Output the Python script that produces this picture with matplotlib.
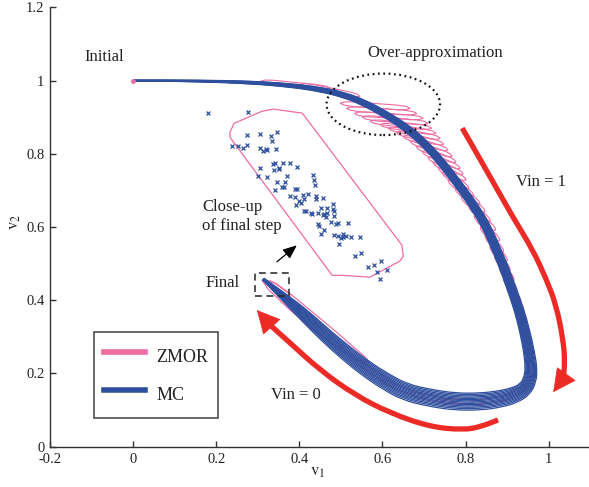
import numpy as np
import matplotlib
matplotlib.use('Agg')
import matplotlib.pyplot as plt
from matplotlib.patches import Ellipse, Rectangle, Polygon, PathPatch
from matplotlib.path import Path
from matplotlib.lines import Line2D

plt.rcParams['font.family'] = ['Liberation Serif', 'DejaVu Serif']
plt.rcParams['mathtext.fontset'] = 'stix'

# ---------------- data ----------------
# Monte-Carlo trajectory band: centre line and spread
mc_center_x = [0.000, 0.161, 0.282, 0.378, 0.450, 0.510, 0.558, 0.599, 0.638, 0.674,
               0.710, 0.744, 0.775, 0.804, 0.830, 0.852, 0.873, 0.893, 0.912, 0.929,
               0.943, 0.953, 0.958, 0.955, 0.943, 0.919, 0.883, 0.835, 0.775, 0.715,
               0.654, 0.606, 0.558, 0.510, 0.462, 0.414, 0.366, 0.313]
mc_center_y = [1.000, 0.999, 0.995, 0.987, 0.976, 0.960, 0.938, 0.913, 0.886, 0.856,
               0.818, 0.774, 0.728, 0.684, 0.640, 0.597, 0.542, 0.488, 0.428, 0.373,
               0.313, 0.258, 0.215, 0.182, 0.157, 0.141, 0.130, 0.123, 0.123, 0.133,
               0.149, 0.179, 0.215, 0.258, 0.305, 0.357, 0.406, 0.458]
mc_spread = [0.0008, 0.0020, 0.0033, 0.0046, 0.0056, 0.0067, 0.0074, 0.0080, 0.0085, 0.0090,
             0.0092, 0.0095, 0.0097, 0.0100, 0.0103, 0.0105, 0.0108, 0.0110, 0.0115, 0.0120,
             0.0128, 0.0136, 0.0149, 0.0167, 0.0185, 0.0200, 0.0210, 0.0218, 0.0218, 0.0218,
             0.0213, 0.0205, 0.0195, 0.0185, 0.0169, 0.0149, 0.0097, 0.0026]
mc_offsets = [-1.0, -0.84, -0.68, -0.53, -0.38, -0.24, -0.1, 0.05, 0.2, 0.35, 0.5, 0.66, 0.82, 1.0]

# ZMOR reachable sets (elongated sets, end points)
zmor_l_x = [0.306, 0.402, 0.498, 0.513, 0.532, 0.551, 0.570, 0.594, 0.614, 0.633, 0.650, 0.667,
            0.681, 0.695, 0.710, 0.722, 0.734, 0.744, 0.758, 0.775, 0.790, 0.808, 0.821, 0.836,
            0.847, 0.859, 0.870, 0.882, 0.892, 0.904, 0.912, 0.920, 0.930, 0.935, 0.942, 0.946,
            0.952, 0.960, 0.948, 0.912, 0.847, 0.775, 0.703, 0.630, 0.325]
zmor_l_y = [0.998, 0.990, 0.938, 0.924, 0.910, 0.900, 0.889, 0.880, 0.870, 0.859, 0.848, 0.834,
            0.820, 0.807, 0.790, 0.777, 0.763, 0.750, 0.728, 0.705, 0.682, 0.657, 0.631, 0.601,
            0.578, 0.549, 0.523, 0.491, 0.462, 0.433, 0.406, 0.377, 0.345, 0.318, 0.289, 0.268,
            0.244, 0.204, 0.166, 0.138, 0.122, 0.119, 0.133, 0.166, 0.452]
zmor_r_x = [0.474, 0.546, 0.667, 0.683, 0.698, 0.710, 0.719, 0.729, 0.739, 0.748, 0.758, 0.768,
            0.777, 0.787, 0.794, 0.801, 0.808, 0.820, 0.835, 0.847, 0.860, 0.872, 0.882, 0.891,
            0.900, 0.907, 0.916, 0.923, 0.932, 0.939, 0.946, 0.952, 0.957, 0.961, 0.964, 0.964,
            0.963, 0.934, 0.883, 0.811, 0.739, 0.667, 0.594, 0.534, 0.378]
zmor_r_y = [0.979, 0.957, 0.924, 0.910, 0.897, 0.883, 0.870, 0.856, 0.842, 0.826, 0.810, 0.793,
            0.777, 0.760, 0.744, 0.728, 0.705, 0.684, 0.662, 0.641, 0.615, 0.591, 0.562, 0.532,
            0.507, 0.480, 0.453, 0.424, 0.393, 0.368, 0.340, 0.309, 0.281, 0.253, 0.228, 0.205,
            0.185, 0.149, 0.125, 0.117, 0.125, 0.147, 0.182, 0.237, 0.408]

# ZMOR outline along the last leg
zmor_final_x = [0.310, 0.342, 0.373, 0.409, 0.481, 0.556, 0.568, 0.534, 0.450, 0.378, 0.325]
zmor_final_y = [0.455, 0.447, 0.422, 0.389, 0.321, 0.247, 0.231, 0.239, 0.305, 0.373, 0.430]

# Close-up of final step: enclosing ZMOR set and MC samples
closeup_x = [0.233, 0.233, 0.243, 0.310, 0.337, 0.407, 0.647, 0.650, 0.642, 0.570, 0.503, 0.479]
closeup_y = [0.845, 0.859, 0.883, 0.916, 0.922, 0.911, 0.550, 0.520, 0.507, 0.463, 0.468, 0.468]
sample_x = [0.180, 0.277, 0.275, 0.306, 0.332, 0.346, 0.333, 0.237, 0.253, 0.265,
            0.275, 0.306, 0.312, 0.320, 0.323, 0.345, 0.336, 0.342, 0.360, 0.378,
            0.340, 0.350, 0.351, 0.306, 0.395, 0.301, 0.322, 0.371, 0.346, 0.366,
            0.359, 0.363, 0.342, 0.432, 0.436, 0.438, 0.390, 0.394, 0.378, 0.390,
            0.408, 0.422, 0.440, 0.458, 0.399, 0.411, 0.440, 0.405, 0.391, 0.411,
            0.416, 0.428, 0.430, 0.444, 0.452, 0.466, 0.481, 0.481, 0.484, 0.457,
            0.460, 0.464, 0.467, 0.483, 0.476, 0.493, 0.488, 0.517, 0.446, 0.447,
            0.460, 0.452, 0.484, 0.493, 0.504, 0.500, 0.506, 0.513, 0.525, 0.545,
            0.496, 0.535, 0.549, 0.566, 0.579, 0.597, 0.586, 0.610, 0.593]
sample_y = [0.910, 0.915, 0.852, 0.854, 0.849, 0.859, 0.834, 0.822, 0.822, 0.817,
            0.825, 0.817, 0.808, 0.814, 0.810, 0.812, 0.771, 0.776, 0.776, 0.776,
            0.757, 0.759, 0.762, 0.762, 0.764, 0.739, 0.736, 0.739, 0.722, 0.722,
            0.709, 0.709, 0.702, 0.741, 0.727, 0.716, 0.703, 0.703, 0.684, 0.682,
            0.687, 0.689, 0.684, 0.680, 0.672, 0.677, 0.676, 0.666, 0.659, 0.645,
            0.643, 0.638, 0.635, 0.637, 0.651, 0.653, 0.664, 0.650, 0.643, 0.632,
            0.635, 0.628, 0.637, 0.629, 0.614, 0.611, 0.608, 0.610, 0.607, 0.604,
            0.591, 0.580, 0.578, 0.576, 0.582, 0.571, 0.572, 0.575, 0.573, 0.573,
            0.553, 0.522, 0.529, 0.490, 0.496, 0.506, 0.476, 0.482, 0.457]

# Input direction arrows (last point = arrow tip)
vin1_x = [0.792, 0.835, 0.876, 0.917, 0.962, 0.994, 1.018, 1.035, 1.039, 1.035, 1.011]
vin1_y = [0.870, 0.785, 0.703, 0.621, 0.537, 0.458, 0.387, 0.291, 0.231, 0.187, 0.149]
vin0_x = [0.878, 0.835, 0.794, 0.715, 0.618, 0.534, 0.450, 0.378, 0.330, 0.298]
vin0_y = [0.073, 0.054, 0.046, 0.054, 0.092, 0.141, 0.209, 0.283, 0.332, 0.373]

xticks = [-0.2, 0, 0.2, 0.4, 0.6, 0.8, 1]
xticklabels = ['-0.2', '0', '0.2', '0.4', '0.6', '0.8', '1']
yticks = [0, 0.2, 0.4, 0.6, 0.8, 1, 1.2]
yticklabels = ['0', '0.2', '0.4', '0.6', '0.8', '1', '1.2']

# ---------------- style ----------------
BLUE = '#2E4E9E'
PINK = '#EE6CA3'
RED = '#EC2A26'
AXC = '#333333'

fig = plt.figure(figsize=(5.89, 4.87), dpi=100)
ax = fig.add_axes([50 / 589, 40.3 / 487, 539 / 589, 439.4 / 487])
ax.set_xlim(-0.2, 1.097)
ax.set_ylim(0, 1.2)
for s in ['top', 'right']:
    ax.spines[s].set_visible(False)
for s in ['left', 'bottom']:
    ax.spines[s].set_color(AXC)
    ax.spines[s].set_linewidth(1.0)
ax.set_xticks(xticks)
ax.set_xticklabels(xticklabels)
ax.set_yticks(yticks)
ax.set_yticklabels(yticklabels)
ax.tick_params(direction='in', length=4, width=1, colors=AXC, labelsize=10.5,
               labelcolor='#222222')
ax.tick_params(axis='x', pad=4.5)
ax.tick_params(axis='y', pad=4)

T = ax.transData
Ti = T.inverted()
ppu = (T.transform((1, 1)) - T.transform((0, 0))).mean()


def smooth_path(xy):
    """Path through the read points drawn with quadratic Bezier joins."""
    xy = np.asarray(xy, dtype=float)
    verts = [xy[0], (xy[0] + xy[1]) / 2]
    codes = [Path.MOVETO, Path.LINETO]
    for i in range(1, len(xy) - 1):
        verts += [xy[i], (xy[i] + xy[i + 1]) / 2]
        codes += [Path.CURVE3, Path.CURVE3]
    verts.append(xy[-1])
    codes.append(Path.LINETO)
    return Path(np.array(verts), codes)


# ZMOR sets (drawn first, under the MC band)
def set_poly(l, r, h):
    L = T.transform(l)
    R = T.transform(r)
    d = R - L
    u = d / np.linalg.norm(d)
    n = np.array([-u[1], u[0]])
    c1, c2 = 0.06, 0.18
    v = [L,
         L + c1 * d + 0.7 * h * n, L + c2 * d + h * n,
         R - c2 * d + h * n, R - c1 * d + 0.7 * h * n,
         R,
         R - c1 * d - 0.7 * h * n, R - c2 * d - h * n,
         L + c2 * d - h * n, L + c1 * d - 0.7 * h * n]
    return Ti.transform(np.array(v))


for lx, ly, rx, ry in zip(zmor_l_x, zmor_l_y, zmor_r_x, zmor_r_y):
    ax.add_patch(Polygon(set_poly((lx, ly), (rx, ry), 2.3), closed=True, fill=False,
                         ec=PINK, lw=0.8, zorder=2))
ax.add_patch(Polygon(np.column_stack([zmor_final_x, zmor_final_y]), closed=True,
                     fill=False, ec=PINK, lw=0.9, zorder=2))

# MC band
pts = T.transform(np.column_stack([mc_center_x, mc_center_y]))
dd = np.gradient(pts, axis=0)
tt = dd / np.linalg.norm(dd, axis=1, keepdims=True)
nn = np.column_stack([-tt[:, 1], tt[:, 0]])
spr = np.array(mc_spread) * ppu
for s in mc_offsets:
    off = Ti.transform(pts + nn * (s * spr)[:, None])
    ax.add_patch(PathPatch(smooth_path(off), fill=False, ec=BLUE, lw=0.9, zorder=3,
                           joinstyle='round'))
ax.plot([mc_center_x[0]], [mc_center_y[0]], 'o', color=PINK, ms=2.5, zorder=4)

# close-up
ax.add_patch(Polygon(np.column_stack([closeup_x, closeup_y]), closed=True, fill=False,
                     ec=PINK, lw=0.9, zorder=2))
ax.plot(sample_x, sample_y, 'x', color=BLUE, ms=3, mew=0.9, zorder=3)


# red arrows
def red_arrow(xs, ys):
    shaft = np.column_stack([xs[:-1], ys[:-1]])
    ax.add_patch(PathPatch(smooth_path(shaft), fill=False, ec=RED, lw=3.8,
                           capstyle='butt', joinstyle='round', zorder=5))
    ax.annotate('', xy=(xs[-1], ys[-1]), xytext=(xs[-2], ys[-2]),
                arrowprops=dict(arrowstyle='-|>,head_length=0.55,head_width=0.28',
                                color=RED, lw=0.5, mutation_scale=28,
                                shrinkA=0, shrinkB=0), zorder=5)


red_arrow(vin1_x, vin1_y)
red_arrow(vin0_x, vin0_y)

# annotations
ax.add_patch(Ellipse((0.602, 0.935), 0.273, 0.168, fill=False, ec='#111111', lw=1.6,
                     ls=(0, (0.8, 1.6)), zorder=6))
ax.add_patch(Rectangle((0.294, 0.411), 0.082, 0.064, fill=False, ec='#222222', lw=1.1,
                       ls=(0, (4.5, 3)), zorder=6))
ax.annotate('', xy=(0.394, 0.550), xytext=(0.346, 0.505),
            arrowprops=dict(arrowstyle='-|>,head_length=0.6,head_width=0.25', color='black',
                            lw=0.9, mutation_scale=14, shrinkA=0, shrinkB=0))

tk = dict(fontsize=12, color='#222222')
ax.text(-0.069, 1.063, 'Initial', ha='center', va='center', **tk)
ax.text(0.728, 1.075, 'Over-approximation', ha='center', va='center', **tk)
ax.text(0.982, 0.723, 'Vin = 1', ha='center', va='center', **tk)
ax.text(0.392, 0.141, 'Vin = 0', ha='center', va='center', **tk)
ax.text(0.166, 0.628, 'Close-up\nof final step', ha='left', va='center',
        linespacing=1.25, **tk)
ax.text(0.256, 0.446, 'Final', ha='right', va='center', **tk)

fig.text(318 / 589, 1 - 472 / 487, r'$\mathrm{v}_1$', ha='center', va='center',
         fontsize=12, color='#222222')
fig.text(15 / 589, 1 - 222 / 487, r'$\mathrm{v}_2$', ha='center', va='center',
         fontsize=12, color='#222222', rotation=90)

handles = [Line2D([], [], color=PINK, lw=4), Line2D([], [], color=BLUE, lw=4)]
leg = ax.legend(handles, ['ZMOR', 'MC'], loc='upper left', bbox_to_anchor=(0.0816, 0.260),
                frameon=True, fancybox=False, fontsize=13, handlelength=2.3,
                handleheight=2.0, labelspacing=0.57, borderpad=0.55,
                handletextpad=0.6, borderaxespad=0)
leg.get_frame().set_edgecolor('#222222')
leg.get_frame().set_linewidth(1.2)
for t in leg.get_texts():
    t.set_color('#222222')

fig.savefig('out.png', dpi=100)
